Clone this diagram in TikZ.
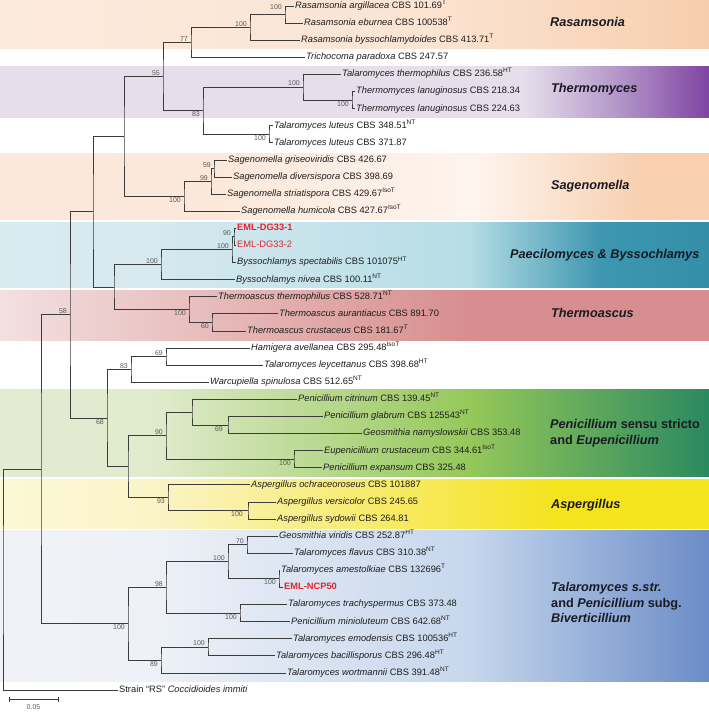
\documentclass[tikz,border=0pt]{standalone}
\usepackage{fontspec}
\setmainfont{Liberation Sans}
\definecolor{taxon}{HTML}{1E1E1E}
\definecolor{bsgray}{HTML}{5A5A5A}
\definecolor{branch}{HTML}{3C3C3C}
\definecolor{emlred}{HTML}{E0242B}
\definecolor{cladetxt}{HTML}{1A1A24}
\definecolor{rasL}{HTML}{FCEADD}\definecolor{rasM}{HTML}{FBE4D2}\definecolor{rasR}{HTML}{F7CEAD}
\definecolor{thmL}{HTML}{E6DEEB}\definecolor{thmM}{HTML}{B497C9}\definecolor{thmR}{HTML}{7E44A2}
\definecolor{sagL}{HTML}{FBE8DA}\definecolor{sagM}{HTML}{FEF4EE}\definecolor{sagR}{HTML}{F8D0B0}
\definecolor{paeL}{HTML}{DAEBF0}\definecolor{paeA}{HTML}{D6E9EF}\definecolor{paeB}{HTML}{B6DDE6}\definecolor{paeC}{HTML}{3E97B0}\definecolor{paeR}{HTML}{348EA8}
\definecolor{thaL}{HTML}{F3E0E0}\definecolor{thaR}{HTML}{D88E8E}
\definecolor{penL}{HTML}{E3EBD2}\definecolor{penA}{HTML}{E1EBCD}\definecolor{penB}{HTML}{95C85A}\definecolor{penR}{HTML}{2A895F}
\definecolor{aspL}{HTML}{FCF8D5}\definecolor{aspA}{HTML}{FAF4C8}\definecolor{aspR}{HTML}{F5E31D}
\definecolor{talL}{HTML}{F0F2F7}\definecolor{talA}{HTML}{EEF1F7}\definecolor{talB}{HTML}{C6D7ED}\definecolor{talR}{HTML}{6B8CC7}
\pgfdeclarehorizontalshading{rasS}{100bp}{color(0bp)=(rasL); color(25bp)=(rasL); color(55bp)=(rasM); color(75bp)=(rasR); color(100bp)=(rasR)}
\pgfdeclarehorizontalshading{thmS}{100bp}{color(0bp)=(thmL); color(25bp)=(thmL); color(62bp)=(thmL); color(68.5bp)=(thmM); color(75bp)=(thmR); color(100bp)=(thmR)}
\pgfdeclarehorizontalshading{sagS}{100bp}{color(0bp)=(sagL); color(25bp)=(sagL); color(40bp)=(sagL); color(58.5bp)=(sagM); color(70bp)=(sagR); color(75bp)=(sagR); color(100bp)=(sagR)}
\pgfdeclarehorizontalshading{paeS}{100bp}{color(0bp)=(paeL); color(25bp)=(paeL); color(35.6bp)=(paeA); color(58.1bp)=(paeB); color(67.3bp)=(paeC); color(75bp)=(paeR); color(100bp)=(paeR)}
\pgfdeclarehorizontalshading{thaS}{100bp}{color(0bp)=(thaL); color(25bp)=(thaL); color(58bp)=(thaR); color(75bp)=(thaR); color(100bp)=(thaR)}
\pgfdeclarehorizontalshading{penS}{100bp}{color(0bp)=(penL); color(25bp)=(penL); color(35.6bp)=(penA); color(58.1bp)=(penB); color(75bp)=(penR); color(100bp)=(penR)}
\pgfdeclarehorizontalshading{aspS}{100bp}{color(0bp)=(aspL); color(25bp)=(aspL); color(35.6bp)=(aspA); color(64.5bp)=(aspR); color(75bp)=(aspR); color(100bp)=(aspR)}
\pgfdeclarehorizontalshading{talS}{100bp}{color(0bp)=(talL); color(25bp)=(talL); color(35.6bp)=(talA); color(58.1bp)=(talB); color(75bp)=(talR); color(100bp)=(talR)}
\begin{document}
\begin{tikzpicture}[x=1pt,y=-1pt,
  leaf/.style={anchor=west, inner sep=1pt, text height=6.8pt, text depth=2pt, font=\fontsize{9.3}{11}\selectfont, text=taxon},
  eml/.style={leaf, text=emlred},
  br/.style={draw=branch, line width=0.8pt},
  bs/.style={inner sep=1pt, font=\fontsize{7}{8}\selectfont, text=bsgray, xshift=-2pt},
  bsA/.style={bs, anchor=south east},
  bsB/.style={bs, anchor=north east},
  clade/.style={anchor=west, align=left, inner sep=0pt, text=cladetxt, font=\fontsize{12.7}{15.5}\selectfont\bfseries}
]
\useasboundingbox (0,0) rectangle (709,712);
% ---------- bands
\shade[shading=rasS] (0,0) rectangle (709,48.5);
\shade[shading=thmS] (0,66.5) rectangle (709,117.5);
\shade[shading=sagS] (0,153) rectangle (709,219.5);
\shade[shading=paeS] (0,222.5) rectangle (709,287);
\shade[shading=thaS] (0,290) rectangle (709,340);
\shade[shading=penS] (0,389) rectangle (709,476);
\shade[shading=aspS] (0,479.5) rectangle (709,528);
\shade[shading=talS] (0,530.5) rectangle (709,681);
% ---------- leaves
\node[leaf] (L1) at (294,6.0) {\textit{Rasamsonia argillacea} CBS 101.69\textsuperscript{T}};
\node[leaf] (L2) at (303,23.1) {\textit{Rasamsonia eburnea} CBS 100538\textsuperscript{T}};
\node[leaf] (L3) at (300,40.2) {\textit{Rasamsonia byssochlamydoides} CBS 413.71\textsuperscript{T}};
\node[leaf] (L4) at (305,57.3) {\textit{Trichocoma paradoxa} CBS 247.57};
\node[leaf] (L5) at (341,74.4) {\textit{Talaromyces thermophilus} CBS 236.58\textsuperscript{HT}};
\node[leaf] (L6) at (355,91.5) {\textit{Thermomyces lanuginosus} CBS 218.34};
\node[leaf] (L7) at (355,108.6) {\textit{Thermomyces lanuginosus} CBS 224.63};
\node[leaf] (L8) at (273,125.7) {\textit{Talaromyces luteus} CBS 348.51\textsuperscript{NT}};
\node[leaf] (L9) at (273,142.8) {\textit{Talaromyces luteus} CBS 371.87};
\node[leaf] (L10) at (227,159.9) {\textit{Sagenomella griseoviridis} CBS 426.67};
\node[leaf] (L11) at (232,177.0) {\textit{Sagenomella diversispora} CBS 398.69};
\node[leaf] (L12) at (226,194.1) {\textit{Sagenomella striatispora} CBS 429.67\textsuperscript{IsoT}};
\node[leaf] (L13) at (240,211.2) {\textit{Sagenomella humicola} CBS 427.67\textsuperscript{IsoT}};
\node[eml, font=\fontsize{9.3}{11}\selectfont\bfseries] (L14) at (236,228.3) {EML-DG33-1};
\node[eml] (L15) at (236,245.4) {EML-DG33-2};
\node[leaf] (L16) at (236,262.5) {\textit{Byssochlamys spectabilis} CBS 101075\textsuperscript{HT}};
\node[leaf] (L17) at (235,279.6) {\textit{Byssochlamys nivea} CBS 100.11\textsuperscript{NT}};
\node[leaf] (L18) at (217,296.7) {\textit{Thermoascus thermophilus} CBS 528.71\textsuperscript{NT}};
\node[leaf] (L19) at (278,313.8) {\textit{Thermoascus aurantiacus} CBS 891.70};
\node[leaf] (L20) at (246,330.9) {\textit{Thermoascus crustaceus} CBS 181.67\textsuperscript{T}};
\node[leaf] (L21) at (250,348.0) {\textit{Hamigera avellanea} CBS 295.48\textsuperscript{IsoT}};
\node[leaf] (L22) at (263,365.1) {\textit{Talaromyces leycettanus} CBS 398.68\textsuperscript{HT}};
\node[leaf] (L23) at (209,382.2) {\textit{Warcupiella spinulosa} CBS 512.65\textsuperscript{NT}};
\node[leaf] (L24) at (297,399.3) {\textit{Penicillium citrinum} CBS 139.45\textsuperscript{NT}};
\node[leaf] (L25) at (323,416.4) {\textit{Penicillium glabrum} CBS 125543\textsuperscript{NT}};
\node[leaf] (L26) at (362,433.5) {\textit{Geosmithia namyslowskii} CBS 353.48};
\node[leaf] (L27) at (323,450.6) {\textit{Eupenicillium crustaceum} CBS 344.61\textsuperscript{IsoT}};
\node[leaf] (L28) at (322,467.7) {\textit{Penicillium expansum} CBS 325.48};
\node[leaf] (L29) at (250,484.8) {\textit{Aspergillus ochraceoroseus} CBS 101887};
\node[leaf] (L30) at (276,501.9) {\textit{Aspergillus versicolor} CBS 245.65};
\node[leaf] (L31) at (276,519.0) {\textit{Aspergillus sydowii} CBS 264.81};
\node[leaf] (L32) at (278,536.1) {\textit{Geosmithia viridis} CBS 252.87\textsuperscript{HT}};
\node[leaf] (L33) at (293,553.2) {\textit{Talaromyces flavus} CBS 310.38\textsuperscript{NT}};
\node[leaf] (L34) at (280,570.3) {\textit{Talaromyces amestolkiae} CBS 132696\textsuperscript{T}};
\node[eml, font=\fontsize{9.3}{11}\selectfont\bfseries] (L35) at (283,587.4) {EML-NCP50};
\node[leaf] (L36) at (287,604.5) {\textit{Talaromyces trachyspermus} CBS 373.48};
\node[leaf] (L37) at (290,621.6) {\textit{Penicillium minioluteum} CBS 642.68\textsuperscript{NT}};
\node[leaf] (L38) at (292,638.7) {\textit{Talaromyces emodensis} CBS 100536\textsuperscript{HT}};
\node[leaf] (L39) at (275,655.8) {\textit{Talaromyces bacillisporus} CBS 296.48\textsuperscript{HT}};
\node[leaf] (L40) at (286,672.9) {\textit{Talaromyces wortmannii} CBS 391.48\textsuperscript{NT}};
\node[leaf] (L41) at (118,690.0) {Strain “RS” \textit{Coccidioides immiti}};
% ---------- internal nodes
\coordinate (nR) at (285,14.55);
\coordinate (nR2) at (250,27.38);
\coordinate (n77) at (191,42.34);
\coordinate (nLan) at (352,100.05);
\coordinate (nTm) at (303,87.23);
\coordinate (nLut) at (269,134.25);
\coordinate (n83a) at (203,110.74);
\coordinate (n55) at (163,76.54);
\coordinate (n59) at (214,168.45);
\coordinate (n99) at (211,181.28);
\coordinate (nS100) at (184,196.24);
\coordinate (nA) at (124,136.39);
\coordinate (nDG90) at (234,236.85);
\coordinate (nDG100) at (232,249.68);
\coordinate (nP100) at (161,264.64);
\coordinate (n60) at (212,322.35);
\coordinate (nT100) at (189,309.53);
\coordinate (nC) at (114,287.08);
\coordinate (nB) at (93,211.74);
\coordinate (n69a) at (166,356.55);
\coordinate (n83b) at (131,369.38);
\coordinate (n69b) at (228,424.95);
\coordinate (nCit) at (192,412.13);
\coordinate (nEup) at (294,459.15);
\coordinate (n90) at (166,435.64);
\coordinate (nVS) at (248,510.45);
\coordinate (n93) at (168,497.63);
\coordinate (nPA) at (128,466.63);
\coordinate (n68) at (107,418.0);
\coordinate (n58) at (70,314.87);
\coordinate (n70) at (247,544.65);
\coordinate (nAm) at (279,578.85);
\coordinate (nTf) at (228,561.75);
\coordinate (nTr) at (240,613.05);
\coordinate (n98) at (166,587.4);
\coordinate (nEm) at (208,647.25);
\coordinate (n89) at (161,660.08);
\coordinate (nTal) at (128,623.74);
\coordinate (nX) at (41,469.3);
\coordinate (root) at (3,579.65);
% ---------- branches
\foreach \p/\a/\b in {nR/L1.west/L2.west, nR2/nR/L3.west, n77/nR2/L4.west,
  nLan/L6.west/L7.west, nTm/L5.west/nLan, nLut/L8.west/L9.west, n83a/nTm/nLut,
  n55/n77/n83a, n59/L10.west/L11.west, n99/n59/L12.west, nS100/n99/L13.west,
  nA/n55/nS100, nDG90/L14.west/L15.west, nDG100/nDG90/L16.west, nP100/nDG100/L17.west,
  n60/L19.west/L20.west, nT100/L18.west/n60, nC/nP100/nT100, nB/nA/nC,
  n69a/L21.west/L22.west, n83b/n69a/L23.west, n69b/L25.west/L26.west, nCit/L24.west/n69b,
  nEup/L27.west/L28.west, n90/nCit/nEup, nVS/L30.west/L31.west, n93/L29.west/nVS,
  nPA/n90/n93, n68/n83b/nPA, n58/nB/n68,
  n70/L32.west/L33.west, nAm/L34.west/L35.west, nTf/n70/nAm, nTr/L36.west/L37.west,
  n98/nTf/nTr, nEm/L38.west/L39.west, n89/nEm/L40.west, nTal/n98/n89,
  nX/n58/nTal, root/nX/L41.west}
  {\draw[br] (\a) -| (\p) |- (\b);}
% ---------- support values
\node[bsA, yshift=4pt] (bR) at (nR) {100};
\node[bsA] (bR2) at (nR2) {100};
\node[bsA] (b77) at (n77) {77};
\node[bsA] (b55) at (n55) {55};
\node[bsA] (bTm) at (nTm) {100};
\node[bsB] (bLan) at (nLan) {100};
\node[bsB] (b83a) at (n83a) {83};
\node[bsB] (bLut) at (nLut) {100};
\node[bsA] (b59) at (n59) {59};
\node[bsA] (b99) at (n99) {99};
\node[bsB] (bS100) at (nS100) {100};
\node[bsA] (bDG90) at (nDG90) {90};
\node[bsA] (bDG100) at (nDG100) {100};
\node[bsA] (bP100) at (nP100) {100};
\node[bsB] (bT100) at (nT100) {100};
\node[bsB] (b60) at (n60) {60};
\node[bsA] (b69a) at (n69a) {69};
\node[bsA] (b83b) at (n83b) {83};
\node[bsB] (b68) at (n68) {68};
\node[bsA] (b58) at (n58) {58};
\node[bsA] (b90) at (n90) {90};
\node[bsB, xshift=-2pt] (b69b) at (n69b) {69};
\node[bsB] (bEup) at (nEup) {100};
\node[bsB] (b93) at (n93) {93};
\node[bsB, xshift=-2pt] (bVS) at (nVS) {100};
\node[bsB] (bTal) at (nTal) {100};
\node[bsA] (b98) at (n98) {98};
\node[bsA] (bTf) at (nTf) {100};
\node[bsA] (b70) at (n70) {70};
\node[bsB] (bAm) at (nAm) {100};
\node[bsB] (bTr) at (nTr) {100};
\node[bsB] (b89) at (n89) {89};
\node[bsA] (bEm) at (nEm) {100};
% ---------- clade names
\node[clade] (cRas) at (550,22) {\itshape Rasamsonia};
\node[clade] (cThm) at (551,89) {\itshape Thermomyces};
\node[clade] (cSag) at (551,186) {\itshape Sagenomella};
\node[clade] (cPae) at (510,255) {\itshape Paecilomyces \& Byssochlamys};
\node[clade] (cTha) at (551,313) {\itshape Thermoascus};
\node[clade] (cPen) at (550,433) {\textit{Penicillium} sensu stricto\\and \textit{Eupenicillium}};
\node[clade] (cAsp) at (551,505) {\itshape Aspergillus};
\node[clade] (cTal) at (551,602.5) {\textit{Talaromyces s.str.}\\and \textit{Penicillium} subg.\\\textit{Biverticillium}};
% ---------- scale bar
\coordinate (sb1) at (9,699);
\coordinate (sb2) at (58,699);
\draw[br, line width=0.7pt] (sb1) -- (sb2);
\draw[br, line width=0.7pt] ([yshift=2.5pt]sb1) -- ([yshift=-2.5pt]sb1);
\draw[br, line width=0.7pt] ([yshift=2.5pt]sb2) -- ([yshift=-2.5pt]sb2);
\node[inner sep=0pt, font=\fontsize{7}{8}\selectfont, text=bsgray] (sbl) at (33.5,707.5) {0.05};
\end{tikzpicture}
\end{document}
